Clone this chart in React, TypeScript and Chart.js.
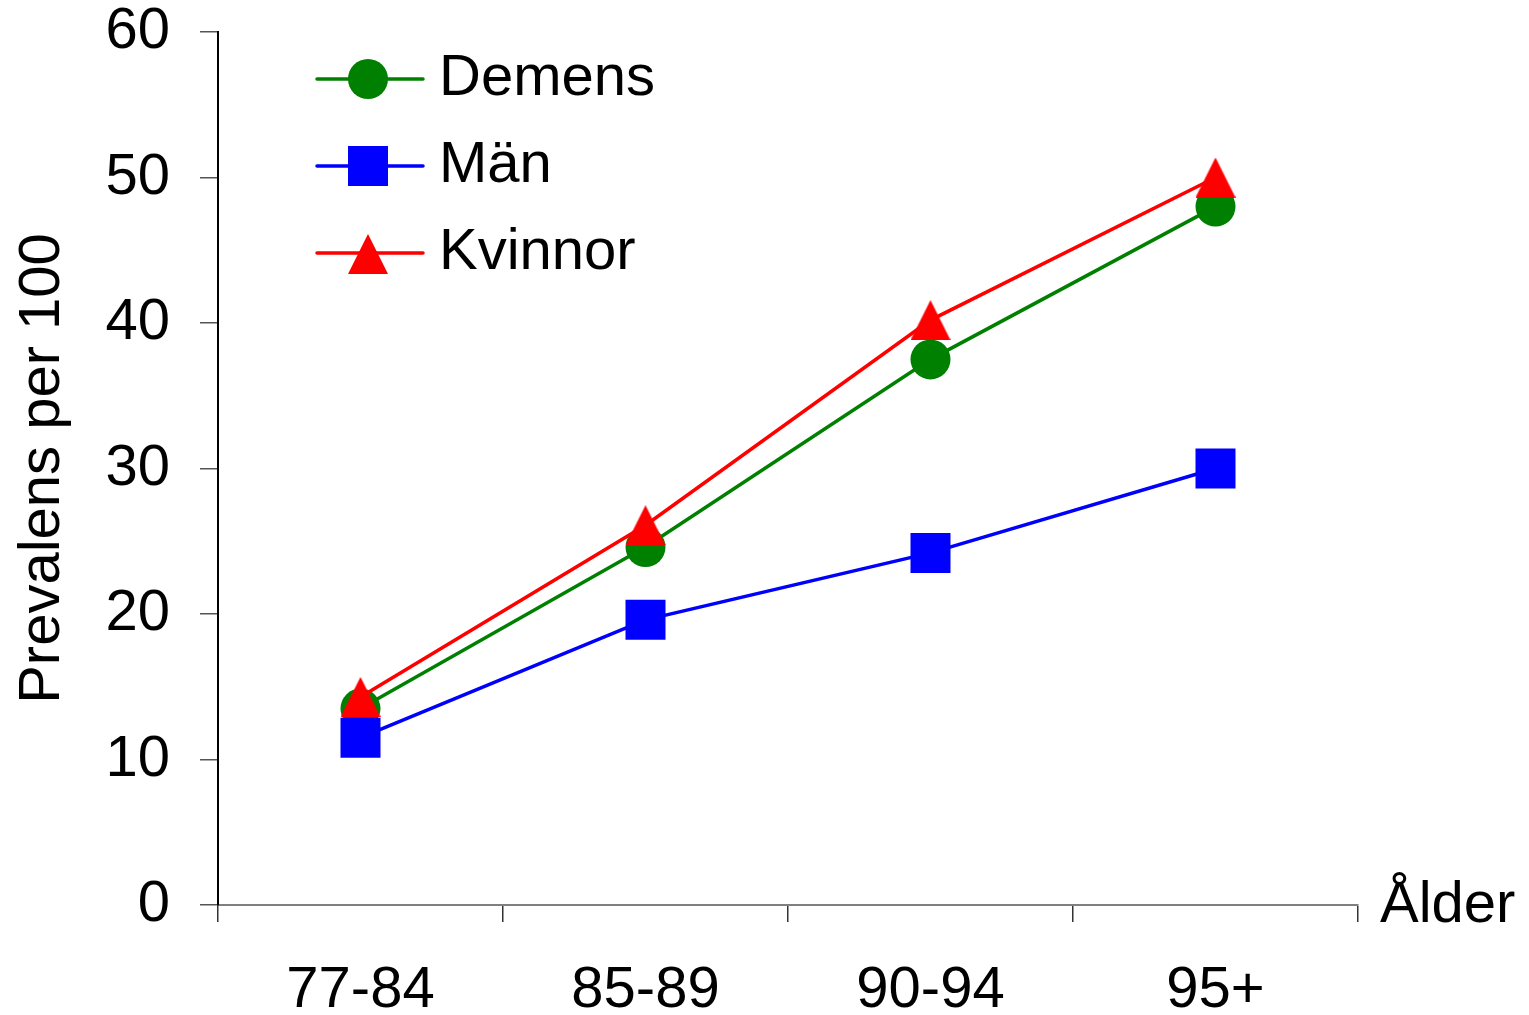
import React, { useEffect, useRef } from 'react';
import { Chart, registerables } from 'chart.js';

Chart.register(...registerables);

const categories = ['77-84', '85-89', '90-94', '95+'];
const demens = [13.5, 24.6, 37.5, 48.0];
const man = [11.5, 19.6, 24.2, 30.0];
const kvinnor = [14.3, 26.1, 40.2, 50.0];
const yTicks = [0, 10, 20, 30, 40, 50, 60];
const seriesNames = ['Demens', 'Män', 'Kvinnor'];
const seriesColors = ['#008000', '#0000FF', '#FF0000'];
const yTitle = 'Prevalens per 100';
const xTitle = 'Ålder';

const FONT = '"Liberation Sans", Arial, Helvetica, sans-serif';
const FS = 58;
const W = 1529;
const H = 1015;

function makeTriangle(color: string, w: number, h: number) {
  const c = document.createElement('canvas');
  c.width = w;
  c.height = h;
  const ctx = c.getContext('2d')!;
  ctx.fillStyle = color;
  ctx.beginPath();
  ctx.moveTo(w / 2, 0);
  ctx.lineTo(w, h);
  ctx.lineTo(0, h);
  ctx.closePath();
  ctx.fill();
  return c;
}

export default function App() {
  const ref = useRef<HTMLCanvasElement | null>(null);

  useEffect(() => {
    if (!ref.current) return;
    const tri = makeTriangle(seriesColors[2], 40, 40);

    const legendPlugin = {
      id: 'customLegend',
      afterDraw(chart: any) {
        const ctx = chart.ctx as CanvasRenderingContext2D;
        ctx.save();
        const rows = [79, 166, 253];
        seriesNames.forEach((name, i) => {
          const y = rows[i];
          ctx.strokeStyle = seriesColors[i];
          ctx.lineWidth = 3.5;
          ctx.lineCap = 'round';
          ctx.beginPath();
          ctx.moveTo(317, y);
          ctx.lineTo(423, y);
          ctx.stroke();
          ctx.fillStyle = seriesColors[i];
          if (i === 0) {
            ctx.beginPath();
            ctx.arc(368, y, 20, 0, Math.PI * 2);
            ctx.fill();
          } else if (i === 1) {
            ctx.fillRect(348, y - 20, 40, 40);
          } else {
            ctx.drawImage(tri, 348, y - 19, 40, 40);
          }
          ctx.fillStyle = '#000';
          ctx.font = `${FS}px ${FONT}`;
          ctx.textAlign = 'left';
          ctx.textBaseline = 'alphabetic';
          ctx.fillText(name, 439, y + 16);
        });
        ctx.font = `${FS}px ${FONT}`;
        ctx.fillStyle = '#000';
        ctx.textAlign = 'left';
        ctx.textBaseline = 'alphabetic';
        ctx.fillText(xTitle, 1380, 922);
        ctx.restore();
      },
    };

    const chart = new Chart(ref.current, {
      type: 'line',
      data: {
        labels: categories,
        datasets: [
          {
            label: seriesNames[0],
            data: demens,
            borderColor: seriesColors[0],
            backgroundColor: seriesColors[0],
            borderWidth: 3.5,
            pointStyle: 'circle',
            pointRadius: 20,
            pointBorderWidth: 0,
            pointBackgroundColor: seriesColors[0],
            order: 2,
          },
          {
            label: seriesNames[1],
            data: man,
            borderColor: seriesColors[1],
            backgroundColor: seriesColors[1],
            borderWidth: 3.5,
            pointStyle: 'rect',
            pointRadius: 20 * Math.SQRT2,
            pointBorderWidth: 0,
            pointBackgroundColor: seriesColors[1],
            order: 1,
          },
          {
            label: seriesNames[2],
            data: kvinnor,
            borderColor: seriesColors[2],
            backgroundColor: seriesColors[2],
            borderWidth: 3.5,
            pointStyle: tri as any,
            pointRadius: 20,
            pointBorderWidth: 0,
            pointBackgroundColor: seriesColors[2],
            order: 0,
          },
        ],
      },
      options: {
        responsive: false,
        animation: false,
        devicePixelRatio: 1,
        layout: { padding: { left: 0, right: 171, top: 32, bottom: 0 } },
        plugins: {
          legend: { display: false },
          tooltip: { enabled: false },
        },
        scales: {
          x: {
            offset: true,
            grid: {
              offset: true,
              drawOnChartArea: false,
              drawTicks: true,
              tickLength: 17,
              color: '#333',
              lineWidth: 1.5,
            },
            border: { color: '#808080', width: 2 },
            ticks: {
              font: { family: FONT, size: FS },
              color: '#000',
              padding: 34,
              maxRotation: 0,
            },
            afterFit: (s: any) => {
              s.height = 110;
              s.paddingLeft = 0;
              s.paddingRight = 0;
            },
          },
          y: {
            min: 0,
            max: 60,
            afterBuildTicks: (s: any) => {
              s.ticks = yTicks.map((v) => ({ value: v }));
            },
            grid: {
              drawOnChartArea: false,
              drawTicks: true,
              tickLength: 18,
              color: '#555',
              lineWidth: 1.5,
            },
            border: { color: '#000', width: 2 },
            ticks: {
              font: { family: FONT, size: FS },
              color: '#000',
              padding: 30,
            },
            title: {
              display: true,
              text: yTitle,
              font: { family: FONT, size: FS },
              color: '#000',
              padding: { top: 8, bottom: 0 },
            },
            afterFit: (s: any) => {
              s.width = 218;
              s.paddingTop = 0;
              s.paddingBottom = 0;
            },
          },
        },
      },
      plugins: [legendPlugin],
    });
    return () => chart.destroy();
  }, []);

  return (
    <div style={{ position: 'absolute', left: 0, top: 0, width: W, height: H, background: '#fff' }}>
      <canvas ref={ref} width={W} height={H} style={{ display: 'block' }} />
    </div>
  );
}
